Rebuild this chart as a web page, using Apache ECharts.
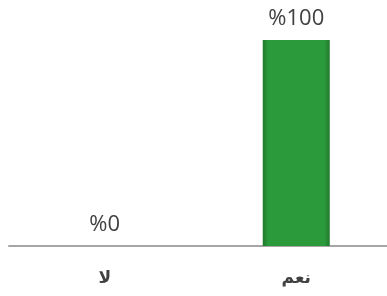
<!DOCTYPE html>
<html style="height: 100%">
<head>
    <meta charset="utf-8">
</head>
<body style="height: 100%; margin: 0; overflow: hidden">
    <div id="container" style="width: 392px; height: 296px"></div>
    <script src="https://cdn.jsdelivr.net/npm/echarts@6/dist/echarts.min.js"></script>
    <script type="text/javascript">
        var categories = ['لا', 'نعم'];
        var values = [0, 100];

        var chart = echarts.init(document.getElementById('container'));
        var option = {
            animation: false,
            grid: { left: 9, right: 0, top: 40, bottom: 50 },
            xAxis: {
                type: 'category',
                data: categories,
                axisTick: { show: false },
                axisLine: { lineStyle: { color: '#a6a6a6', width: 2 } },
                axisLabel: {
                    margin: 24,
                    fontSize: 17,
                    fontWeight: 'bold',
                    color: '#404040',
                    fontFamily: 'DejaVu Sans'
                }
            },
            yAxis: {
                type: 'value',
                min: 0,
                max: 100,
                show: false
            },
            series: [{
                type: 'bar',
                data: values,
                barWidth: 67,
                itemStyle: {
                    color: new echarts.graphic.LinearGradient(0, 0, 1, 0, [
                        { offset: 0, color: '#1f7a2b' },
                        { offset: 0.08, color: '#2b9a3a' },
                        { offset: 0.92, color: '#2b9a3a' },
                        { offset: 1, color: '#1f7a2b' }
                    ]),
                    borderWidth: 0
                },
                label: {
                    show: true,
                    position: 'top',
                    distance: 10,
                    fontSize: 22,
                    color: '#404040',
                    fontFamily: 'Open Sans',
                    formatter: function (p) { return '%' + p.value; }
                }
            }]
        };
        chart.setOption(option);
    </script>
</body>
</html>
